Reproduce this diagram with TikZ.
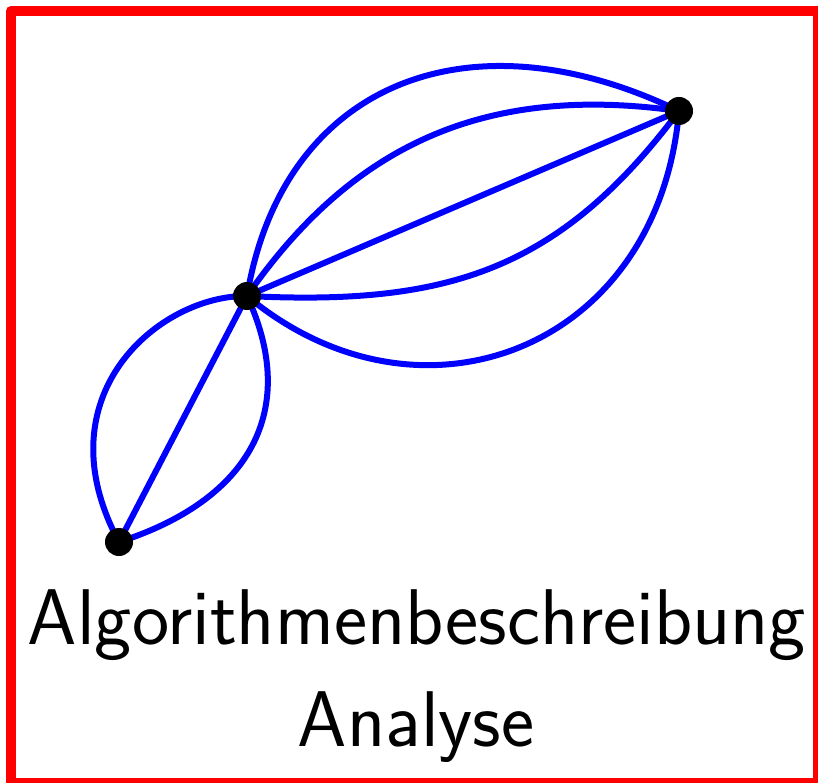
\documentclass[tikz,border=0pt]{standalone}
\begin{document}
\begin{tikzpicture}[x=1pt,y=-1pt,
  edge/.style={blue,line width=6pt},
  dot/.style={circle,fill=black,inner sep=0pt,minimum size=28pt},
  lbl/.style={anchor=base,inner sep=0pt,font=\sffamily\fontsize{79}{95}\selectfont}]
\useasboundingbox (0,0) rectangle (818,783);
\draw[red,line width=10pt,line join=round] (11,11) rectangle (817.7,782.7);
\coordinate (a) at (119,542);
\coordinate (b) at (247,296);
\coordinate (c) at (679,111);
% A-B
\draw[edge] (a) -- (b);
\draw[edge] (a) .. controls (40,395) and (160,295) .. (b);
\draw[edge] (a) .. controls (250,500) and (300,410) .. (b);
% B-C
\draw[edge] (b) -- (c);
\draw[edge] (b) .. controls (283,82) and (470,10) .. (c);
\draw[edge] (b) .. controls (350,148) and (481,83) .. (c);
\draw[edge] (b) .. controls (447,306) and (559,271) .. (c);
\draw[edge] (b) .. controls (420,440) and (658,350) .. (c);
\node[dot] (na) at (a) {};
\node[dot] (nb) at (b) {};
\node[dot] (nc) at (c) {};
\node[lbl] (t1) at (417,644) {Algorithmenbeschreibung};
\node[lbl] (t2) at (416,746) {Analyse};
\end{tikzpicture}
\end{document}
